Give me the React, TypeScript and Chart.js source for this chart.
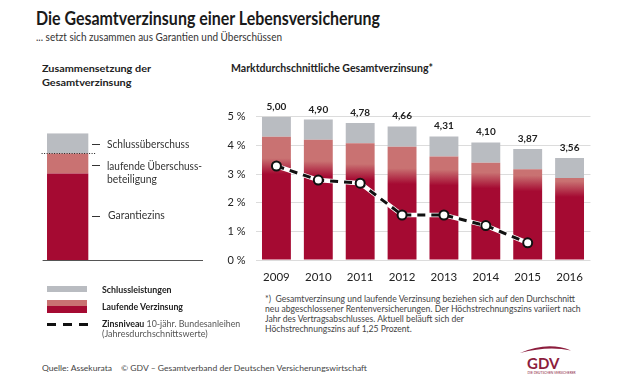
import React, { useEffect, useLayoutEffect, useRef } from "react";
import { Chart, registerables } from "chart.js";

Chart.register(...registerables);

// ---------- data ----------
const years = ["2009", "2010", "2011", "2012", "2013", "2014", "2015", "2016"];
const gesamtverzinsung = [5.0, 4.9, 4.78, 4.66, 4.31, 4.1, 3.87, 3.56];
const laufendeVerzinsung = [4.3, 4.2, 4.07, 3.95, 3.61, 3.39, 3.17, 2.86];
const garantieAnteil = [3.0, 2.9, 2.8, 2.65, 2.6, 2.5, 2.4, 2.2];
const zinsniveau = [3.28, 2.79, 2.68, 1.57, 1.57, 1.2, 0.6, null];
const gesamtLabels = ["5,00", "4,90", "4,78", "4,66", "4,31", "4,10", "3,87", "3,56"];
const yTickValues = [0, 1, 2, 3, 4, 5];
const schemaCategories = ["Schema", "", ""];
const schemaGarantie = [3.0, null, null];
const schemaLaufend = [0.7, null, null];
const schemaSchluss = [0.7, null, null];

// ---------- styles ----------
const FONT = 'Lato, "Open Sans", sans-serif';
const DARK = "#a50a32";
const LIGHT = "#c97272";
const GRAY = "#b9bcc1";
const TEXT = "#222";

function MainChart() {
  const ref = useRef<HTMLCanvasElement>(null);
  useEffect(() => {
    const canvas = ref.current!;
    const schluss = gesamtverzinsung.map((g, i) => +(g - laufendeVerzinsung[i]).toFixed(2));
    const labelPlugin = {
      id: "totals",
      afterDatasetsDraw(chart: any) {
        const { ctx, scales } = chart;
        const meta = chart.getDatasetMeta(0);
        ctx.save();
        ctx.font = `bold 10px ${FONT}`;
        ctx.fillStyle = TEXT;
        ctx.textAlign = "center";
        ctx.textBaseline = "alphabetic";
        meta.data.forEach((bar: any, i: number) => {
          const y = scales.y.getPixelForValue(gesamtverzinsung[i]);
          ctx.fillText(gesamtLabels[i], bar.x, y - 7);
        });
        ctx.restore();
      },
    };
    const chart = new Chart(canvas, {
      type: "bar",
      data: {
        labels: years,
        datasets: [
          {
            type: "bar",
            label: "Laufende Verzinsung",
            data: laufendeVerzinsung,
            stack: "bars",
            order: 3,
            backgroundColor: (c: any) => {
              const ch = c.chart;
              if (!ch.chartArea) return DARK;
              const i = c.dataIndex;
              const y = ch.scales.y;
              const yb = y.getPixelForValue(0);
              const yt = y.getPixelForValue(laufendeVerzinsung[i]);
              const yd = y.getPixelForValue(garantieAnteil[i]);
              const yl = y.getPixelForValue(garantieAnteil[i] + 0.55);
              const g = ch.ctx.createLinearGradient(0, yb, 0, yt);
              const s = (p: number) => Math.min(1, Math.max(0, (yb - p) / (yb - yt)));
              g.addColorStop(0, DARK);
              g.addColorStop(s(yd), DARK);
              g.addColorStop(s(yl), LIGHT);
              g.addColorStop(1, LIGHT);
              return g;
            },
            barPercentage: 0.69,
            categoryPercentage: 1,
          },
          {
            type: "bar",
            label: "Schlussleistungen",
            data: schluss,
            stack: "bars",
            order: 3,
            backgroundColor: GRAY,
            barPercentage: 0.69,
            categoryPercentage: 1,
          },
          {
            type: "line",
            label: "underlay",
            data: zinsniveau,
            stack: "w",
            order: 2,
            borderColor: "#ffffff",
            borderWidth: 4.5,
            pointRadius: 0,
            tension: 0,
          } as any,
          {
            type: "line",
            label: "Zinsniveau",
            data: zinsniveau,
            stack: "k",
            order: 1,
            borderColor: "#111",
            borderWidth: 3,
            borderDash: [8, 6],
            pointRadius: 4.5,
            pointBackgroundColor: "#ffffff",
            pointBorderColor: "#111",
            pointBorderWidth: 2,
            tension: 0,
          } as any,
        ],
      },
      options: {
        animation: false,
        responsive: false,
        devicePixelRatio: 1,
        layout: { padding: { top: 21.7, right: 9.5, left: 0, bottom: 0 } },
        plugins: { legend: { display: false }, tooltip: { enabled: false } },
        scales: {
          x: {
            stacked: true,
            grid: { display: false, drawTicks: false },
            border: { display: false },
            ticks: { padding: 10, color: TEXT, font: { family: FONT, size: 11.5 } },
            afterFit: (s: any) => { s.height = 30; },
          },
          y: {
            stacked: true,
            min: 0,
            max: 5,
            afterBuildTicks: (s: any) => { s.ticks = yTickValues.map((v) => ({ value: v })); },
            grid: { color: "#dcdcdc", lineWidth: 1, drawTicks: false },
            border: { display: false },
            ticks: {
              padding: 10,
              color: TEXT,
              font: { family: FONT, size: 11 },
              callback: (v: any) => `${v} %`,
            },
            afterFit: (s: any) => { s.width = 35.5; },
          },
        },
      },
      plugins: [labelPlugin],
    } as any);
    return () => chart.destroy();
  }, []);
  return <canvas ref={ref} width={380} height={195} style={{ position: "absolute", left: 220, top: 95, width: 380, height: 195 }} />;
}

function SchemaChart() {
  const ref = useRef<HTMLCanvasElement>(null);
  useEffect(() => {
    const canvas = ref.current!;
    const linesPlugin = {
      id: "schemaLines",
      afterDatasetsDraw(chart: any) {
        const { ctx, chartArea, scales } = chart;
        ctx.save();
        ctx.strokeStyle = "#555";
        ctx.lineWidth = 1;
        ctx.beginPath();
        ctx.moveTo(chartArea.left + 2, chartArea.bottom + 0.5);
        ctx.lineTo(chartArea.right, chartArea.bottom + 0.5);
        ctx.stroke();
        const yy = Math.round(scales.y.getPixelForValue(schemaGarantie[0]! + schemaLaufend[0]!)) + 0.5;
        ctx.strokeStyle = "#222";
        ctx.setLineDash([1, 1.5]);
        ctx.beginPath();
        ctx.moveTo(chartArea.left + 1, yy);
        ctx.lineTo(chartArea.left + 55, yy);
        ctx.stroke();
        ctx.restore();
      },
    };
    const chart = new Chart(canvas, {
      type: "bar",
      data: {
        labels: schemaCategories,
        datasets: [
          { label: "Garantiezins", data: schemaGarantie, backgroundColor: DARK, barPercentage: 0.763, categoryPercentage: 1 },
          { label: "laufende Überschussbeteiligung", data: schemaLaufend, backgroundColor: LIGHT, barPercentage: 0.763, categoryPercentage: 1 },
          { label: "Schlussüberschuss", data: schemaSchluss, backgroundColor: GRAY, barPercentage: 0.763, categoryPercentage: 1 },
        ],
      },
      options: {
        animation: false,
        responsive: false,
        devicePixelRatio: 1,
        layout: { padding: { top: 13.3, bottom: 1, left: 10.6, right: 7 } },
        plugins: { legend: { display: false }, tooltip: { enabled: false } },
        scales: {
          x: { stacked: true, display: false },
          y: { stacked: true, display: false, min: 0, max: 4.4 },
        },
      },
      plugins: [linesPlugin],
    } as any);
    return () => chart.destroy();
  }, []);
  return <canvas ref={ref} width={180} height={141} style={{ position: "absolute", left: 30, top: 120, width: 180, height: 141 }} />;
}

// Text line placed by its baseline; optionally squeezed horizontally to a target width
function T({ x, base, size, w, bold, color, children }: any) {
  const ref = useRef<HTMLDivElement>(null);
  useLayoutEffect(() => {
    const el = ref.current!;
    const fit = () => {
      if (!w) return;
      el.style.transform = "none";
      const nat = el.getBoundingClientRect().width;
      if (nat > 0) el.style.transform = `scaleX(${w / nat})`;
    };
    fit();
    const f = (document as any).fonts;
    if (f && f.ready) f.ready.then(fit);
  }, [w]);
  return (
    <div
      ref={ref}
      style={{
        position: "absolute",
        left: x,
        top: base - 0.987 * size,
        fontFamily: FONT,
        fontSize: size,
        lineHeight: `${size * 1.2}px`,
        fontWeight: bold ? 700 : 400,
        color: color || TEXT,
        whiteSpace: "nowrap",
        transformOrigin: "0 0",
      }}
    >
      {children}
    </div>
  );
}

const Dash = ({ x, y }: { x: number; y: number }) => (
  <div style={{ position: "absolute", left: x, top: y, width: 8, height: 1, background: "#333" }} />
);

export default function App() {
  return (
    <div style={{ position: "fixed", left: 0, top: 0, width: 621, height: 383, background: "#fff", overflow: "hidden" }}>
      <T x={36} base={25.7} size={19.5} w={344} bold color="#1a1a1a">Die Gesamtverzinsung einer Lebensversicherung</T>
      <T x={36} base={41.7} size={10.5} w={246} color="#333">... setzt sich zusammen aus Garantien und Überschüssen</T>

      <T x={41.5} base={71.7} size={10.2} w={109} bold>Zusammensetzung der</T>
      <T x={41.5} base={86} size={10.2} w={89.5} bold>Gesamtverzinsung</T>
      <T x={231} base={72.3} size={10.6} w={202} bold>Marktdurchschnittliche Gesamtverzinsung*</T>

      <SchemaChart />
      <Dash x={92} y={144} />
      <T x={106.7} base={147.7} size={11} w={82.3} color="#333">Schlussüberschuss</T>
      <Dash x={92} y={165} />
      <T x={106.7} base={170} size={11} w={95} color="#333">laufende Überschuss-</T>
      <T x={106.7} base={183.3} size={11} w={50} color="#333">beteiligung</T>
      <Dash x={92} y={216} />
      <T x={108.3} base={219.3} size={11} w={56.7} color="#333">Garantiezins</T>

      <MainChart />

      {/* legend */}
      <div style={{ position: "absolute", left: 47, top: 286, width: 40, height: 6, background: GRAY }} />
      <div style={{ position: "absolute", left: 47, top: 300, width: 40, height: 6, background: LIGHT }} />
      <div style={{ position: "absolute", left: 47, top: 306, width: 40, height: 7, background: DARK }} />
      <svg style={{ position: "absolute", left: 47, top: 322 }} width={42} height={5}>
        <line x1={0} y1={2.5} x2={41} y2={2.5} stroke="#111" strokeWidth={3} strokeDasharray="9 7" />
      </svg>
      <T x={101.7} base={293} size={9.2} w={69.6} bold>Schlussleistungen</T>
      <T x={101.7} base={309.7} size={9.2} w={81} bold>Laufende Verzinsung</T>
      <T x={101.7} base={326.7} size={9.2} w={138.3} color="#555">
        <b style={{ color: TEXT }}>Zinsniveau</b> 10-jähr. Bundesanleihen
      </T>
      <T x={101.7} base={336.9} size={9.2} w={105.7} color="#555">(Jahresdurchschnittswerte)</T>

      {/* footnote */}
      <T x={265} base={302.2} size={8.5} w={310} color="#444">*)&nbsp;&nbsp;Gesamtverzinsung und laufende Verzinsung beziehen sich auf den Durchschnitt</T>
      <T x={265} base={312.5} size={8.5} w={315.7} color="#444">neu abgeschlossener Rentenversicherungen. Der Höchstrechnungszins variiert nach</T>
      <T x={265} base={322.7} size={8.5} w={199} color="#444">Jahr des Vertragsabschlusses. Aktuell beläuft sich der</T>
      <T x={265} base={332.8} size={8.5} w={146.7} color="#444">Höchstrechnungszins auf 1,25 Prozent.</T>

      {/* source */}
      <T x={41.7} base={371.8} size={8.3} w={70} color="#444">Quelle: Assekurata</T>
      <T x={120.7} base={371.8} size={8.3} w={246} color="#444">© GDV – Gesamtverband der Deutschen Versicherungswirtschaft</T>

      {/* logo */}
      <svg style={{ position: "absolute", left: 515, top: 340 }} width={80} height={40}>
        <path d="M5,13 Q33,1 56,10.5 Q33,5.5 5,13 Z" fill="#8c1d3d" />
        <text x={12} y={28.5} fontFamily={FONT} fontWeight={700} fontSize={15} fill="#8c1d3d">GDV</text>
        <text x={12.5} y={33.5} fontFamily={FONT} fontSize={3.3} fill="#8c1d3d">DIE DEUTSCHEN VERSICHERER</text>
      </svg>
    </div>
  );
}
